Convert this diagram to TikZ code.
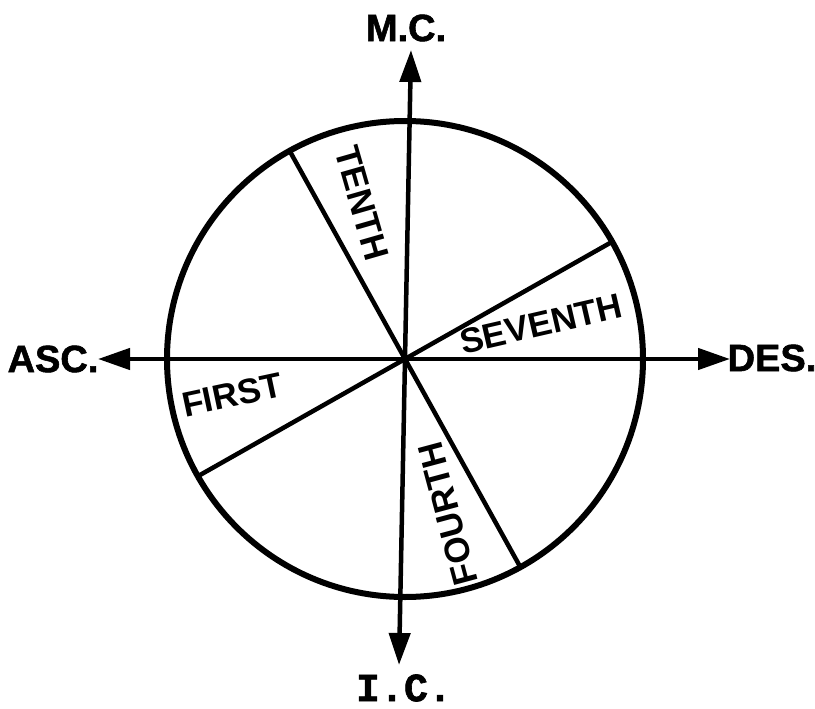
\documentclass[tikz,border=0pt]{standalone}
\usepackage{fontspec}
\setmainfont{Liberation Sans}
\newfontfamily\heavy[FakeBold=1.5]{Liberation Sans Bold}
\newfontfamily\heavymono[FakeBold=1.5]{Liberation Mono Bold}
\usetikzlibrary{arrows.meta}
\begin{document}
\begin{tikzpicture}[x=1pt,y=-1pt,
  axis/.style={line width=4.5pt,-{Triangle[length=32pt,width=21pt]}},
  rim/.style={line width=6pt},
  spoke/.style={line width=4.5pt},
  outer/.style={font=\fontsize{38}{42}\selectfont\heavy},
  outermono/.style={font=\fontsize{40}{44}\selectfont\heavymono},
  inner/.style={font=\fontsize{35}{38}\selectfont\bfseries},
  ]
\useasboundingbox (0,0) rectangle (815,709);
\coordinate (c) at (405,359);
% spoke end points
\coordinate (s1a) at (289.6,150.8);
\coordinate (s1b) at (520.4,567.2);
\coordinate (s2a) at (612.1,241.8);
\coordinate (s2b) at (197.9,476.2);
% axis tips
\coordinate (tipN) at (411,50);
\coordinate (tipS) at (399,665);
\coordinate (tipW) at (98,359);
\coordinate (tipE) at (730,359);

\draw[rim] (c) circle (238);
\draw[spoke] (s1a) -- (s1b);
\draw[spoke] (s2a) -- (s2b);
\draw[axis] (c) -- (tipN);
\draw[axis] (c) -- (tipS);
\draw[axis] (c) -- (tipW);
\draw[axis] (c) -- (tipE);

\node[outer] (mc) at (406,28) {M.C.};
\node[outermono] (ic) at (404,688) {I.C.};
\node[outer] (asc) at (53,359) {ASC.};
\node[outer] (des) at (772,358) {DES.};

\node[inner, rotate=-74] (tenth) at (362,203) {TENTH};
\node[inner, rotate=13] (seventh) at (541,324) {SEVENTH};
\node[inner, rotate=12] (first) at (232,395) {FIRST};
\node[inner, rotate=105] (fourth) at (448,514) {FOURTH};
\end{tikzpicture}
\end{document}
